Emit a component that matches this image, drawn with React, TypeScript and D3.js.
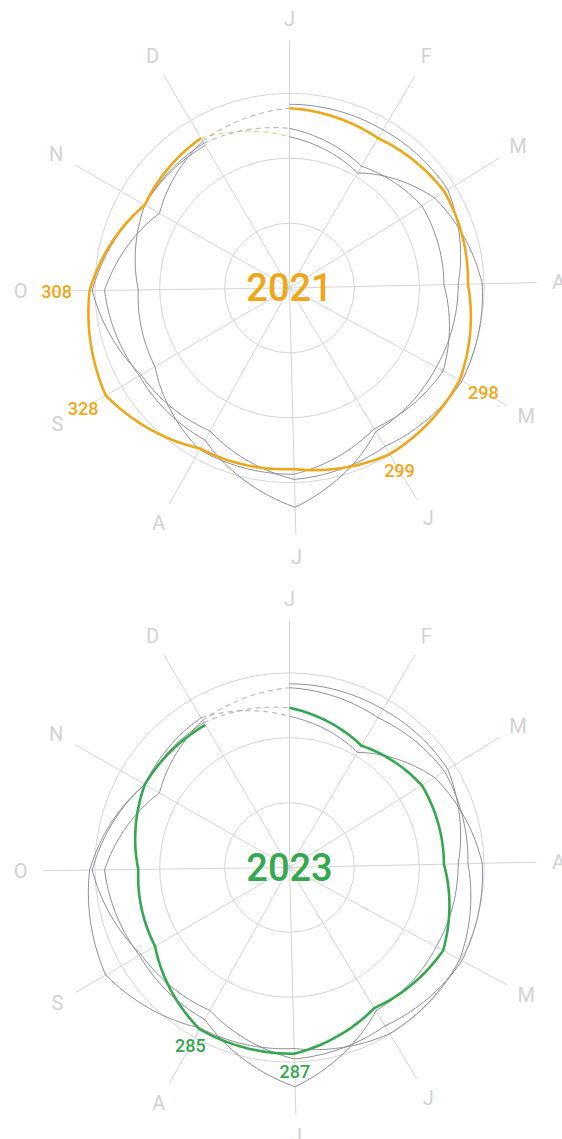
import { useRef, useEffect } from 'react'
import * as d3 from 'd3'

const months = ['J', 'F', 'M', 'A', 'M', 'J', 'J', 'A', 'S', 'O', 'N', 'D']
const monthStartDays = [0, 31, 59, 90, 120, 151, 181, 212, 243, 273, 304, 334]
const years = [2020, 2021, 2022, 2023]
const values2020 = [283, 283, 287, 260, 257, 258, 338, 268, 268, 285, 231, 263]
const values2021 = [277, 268, 281, 275, 298, 299, 279, 283, 328, 308, 257, 268]
const values2022 = [233, 206, 263, 297, 302, 285, 295, 252, 265, 304, 257, 259]
const values2023 = [246, 218, 240, 238, 269, 253, 287, 285, 240, 233, 257, 255]
const gridTicks = [100, 200, 300]
const highlightYears = [2021, 2023]
const highlightColors = ['#eea718', '#35a74f']
const labelMin = 285

const seriesByYear = [values2020, values2021, values2022, values2023]

type Pt = { a: number; v: number }

// radius is interpolated linearly with the angle between two points (spiral segments)
function curvePolar(context: any) {
  let prev: { a: number; r: number } | null = null
  return {
    areaStart() {},
    areaEnd() {},
    lineStart() { prev = null },
    lineEnd() {},
    point(x: number, y: number) {
      const a = Math.atan2(x, -y)
      const r = Math.hypot(x, y)
      if (!prev) {
        context.moveTo(x, y)
      } else {
        let da = a - prev.a
        while (da > Math.PI) da -= 2 * Math.PI
        while (da < -Math.PI) da += 2 * Math.PI
        const n = Math.max(1, Math.ceil(Math.abs(da) / (Math.PI / 180)))
        for (let i = 1; i <= n; i++) {
          const t = i / n
          const aa = prev.a + da * t
          const rr = prev.r + (r - prev.r) * t
          context.lineTo(rr * Math.sin(aa), -rr * Math.cos(aa))
        }
      }
      prev = { a, r }
    },
  }
}

export default function App() {
  const svgRef = useRef<SVGSVGElement>(null)

  useEffect(() => {
    if (!svgRef.current) return
    const svg = d3.select(svgRef.current)
    svg.selectAll('*').remove()

    const cx = 289.5
    const centers = [288, 867.5]
    const spokeR = 247
    const labelR = 269
    const r = d3.scaleLinear().domain([0, 300]).range([0, 194.7])
    const angle = (m: number) => (monthStartDays[m] / 365) * 2 * Math.PI
    const font = 'Roboto, "Noto Sans", sans-serif'

    const line = d3.lineRadial<Pt>()
      .angle((d) => d.a)
      .radius((d) => r(d.v))
      .curve(curvePolar as any)

    highlightYears.forEach((hy, ci) => {
      const color = highlightColors[ci]
      const g = svg.append('g').attr('transform', `translate(${cx},${centers[ci]})`)

      // grid circles
      g.selectAll('.grid')
        .data(gridTicks)
        .join('circle')
        .attr('r', (d) => r(d))
        .attr('fill', 'none')
        .attr('stroke', '#d5d5d5')
        .attr('stroke-width', 1)

      // spokes
      g.selectAll('.spoke')
        .data(months.map((_, i) => angle(i)))
        .join('line')
        .attr('x1', 0).attr('y1', 0)
        .attr('x2', (a) => spokeR * Math.sin(a))
        .attr('y2', (a) => -spokeR * Math.cos(a))
        .attr('stroke', '#d5d5d5')
        .attr('stroke-width', 1)

      // month labels
      g.selectAll('.month')
        .data(months)
        .join('text')
        .attr('x', (_, i) => labelR * Math.sin(angle(i)))
        .attr('y', (_, i) => -labelR * Math.cos(angle(i)))
        .attr('text-anchor', 'middle')
        .attr('dominant-baseline', 'central')
        .attr('font-family', font)
        .attr('font-size', 20)
        .attr('fill', '#d2d2d2')
        .text((d) => d)

      const yearPts = seriesByYear.map((vals) => vals.map((v, i) => ({ a: angle(i), v })))

      // other years
      years.forEach((y, yi) => {
        if (y === hy) return
        g.append('path')
          .attr('d', line(yearPts[yi]))
          .attr('fill', 'none')
          .attr('stroke', '#8c8e9a')
          .attr('stroke-width', 1)
      })

      // year-end to next january, dashed
      years.forEach((y, yi) => {
        if (yi === years.length - 1) return
        const seg = [
          { a: angle(11), v: seriesByYear[yi][11] },
          { a: 2 * Math.PI, v: seriesByYear[yi + 1][0] },
        ]
        g.append('path')
          .attr('d', line(seg))
          .attr('fill', 'none')
          .attr('stroke', y === hy ? color : '#a9abb5')
          .attr('stroke-opacity', y === hy ? 0.55 : 0.8)
          .attr('stroke-width', 1.2)
          .attr('stroke-dasharray', '5,4')
      })

      const hi = years.indexOf(hy)
      g.append('path')
        .attr('d', line(yearPts[hi]))
        .attr('fill', 'none')
        .attr('stroke', color)
        .attr('stroke-width', 2.6)
        .attr('stroke-linejoin', 'round')

      // value labels for the high months
      const labelled = yearPts[hi].filter((d) => d.v >= labelMin)
      g.selectAll('.vlabel')
        .data(labelled)
        .join('text')
        .attr('x', (d) => {
          const s = Math.sin(d.a)
          return (r(d.v) + 18 + 15 * s ** 4) * s
        })
        .attr('y', (d) => {
          const s = Math.sin(d.a)
          return -(r(d.v) + 18 + 15 * s ** 4) * Math.cos(d.a)
        })
        .attr('text-anchor', 'middle')
        .attr('dominant-baseline', 'central')
        .attr('font-family', font)
        .attr('font-weight', 500)
        .attr('font-size', 18)
        .attr('fill', color)
        .text((d) => d.v)

      g.append('text')
        .attr('x', 0)
        .attr('y', 0)
        .attr('text-anchor', 'middle')
        .attr('dominant-baseline', 'central')
        .attr('font-family', font)
        .attr('font-weight', 500)
        .attr('font-size', 38)
        .attr('fill', color)
        .text(hy)
    })
  }, [])

  return (
    <svg
      ref={svgRef}
      width={562}
      height={1139}
      style={{ position: 'absolute', left: 0, top: 0, background: '#fff' }}
    />
  )
}
